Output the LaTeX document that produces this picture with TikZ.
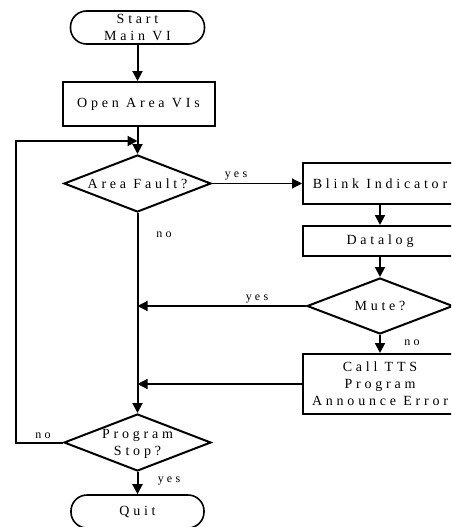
\documentclass[tikz,border=0pt]{standalone}
\usepackage{fontspec}
\setmainfont{Liberation Serif}[LetterSpace=27]
\usetikzlibrary{shapes.geometric,arrows.meta}
\begin{document}
\begin{tikzpicture}[x=1pt,y=-1pt,
  thick line/.style={line width=2pt},
  thin line/.style={line width=1.2pt},
  arr/.style={-{Triangle[length=10pt,width=10pt]}},
  proc/.style={draw,line width=2pt,rectangle,inner sep=0pt,align=center,font=\fontsize{14}{17}\selectfont},
  term/.style={draw,line width=1.6pt,rectangle,rounded corners=16pt,inner sep=0pt,align=center,font=\fontsize{14}{17}\selectfont},
  dec/.style={draw,line width=2pt,diamond,inner sep=0pt},
  dectext/.style={align=center,inner sep=0pt,font=\fontsize{14}{17}\selectfont},
  lbl/.style={inner sep=0pt,font=\fontsize{12}{14}\selectfont}]
\useasboundingbox (0,0) rectangle (451,527);
\clip (0,0) rectangle (451,527);
\fill[white] (0,0) rectangle (451,527);

\node[term,minimum width=134pt,minimum height=33pt] (start) at (137.5,27.5) {Start\\Main VI};
\node[proc,minimum width=152pt,minimum height=44pt] (open) at (138.5,104) {Open Area VIs};
\node[dec,minimum width=147pt,minimum height=57pt] (af) at (137.5,183.5) {};
\node[dectext] (aft) at (af.center) {Area Fault?};
\node[proc,minimum width=154pt,minimum height=41pt] (blink) at (380,183.5) {Blink Indicator};
\node[proc,minimum width=154pt,minimum height=30pt] (dlog) at (380,241) {Datalog};
\node[dec,minimum width=146pt,minimum height=56pt] (mute) at (380,306) {};
\node[dectext] (mutet) at (mute.center) {Mute?};
\node[proc,minimum width=154pt,minimum height=60pt] (tts) at (380,384) {Call TTS\\Program\\Announce Error};
\node[dec,minimum width=147pt,minimum height=57pt] (ps) at (137.5,442.5) {};
\node[dectext] (pst) at (137.5,443.5) {Program\\Stop?};
\node[term,minimum width=133pt,minimum height=33pt] (quit) at (137.5,511.5) {Quit};

\coordinate (j) at (137.5,141);
\coordinate (lb) at (16,442.5);

\draw[thick line,arr] (start) -- (start |- open.north);
\draw[thick line,arr] (start |- open.south) -- (af.north);
\draw[thick line,arr] (ps.west) -- (lb) |- (j);
\draw[thin line,arr] (af.east) -- (blink.west);
\draw[thick line,arr] (af.south) -- (ps.north);
\draw[thick line,arr] (blink) -- (dlog);
\draw[thick line,arr] (dlog) -- (mute.north);
\draw[thick line,arr] (mute.south) -- (tts.north);
\draw[thin line,arr] (mute.west) -- (mute.west -| af.south);
\draw[thin line,arr] (tts.west) -- (tts.west -| af.south);
\draw[thick line,arr] (ps.south) -- (quit.north);

\node[lbl] (lyes1) at (236,176) {yes};
\node[lbl] (lno1) at (164,235) {no};
\node[lbl] (lyes2) at (257,299) {yes};
\node[lbl] (lno2) at (412,343) {no};
\node[lbl] (lno3) at (43,436) {no};
\node[lbl] (lyes3) at (169,481) {yes};
\end{tikzpicture}
\end{document}
